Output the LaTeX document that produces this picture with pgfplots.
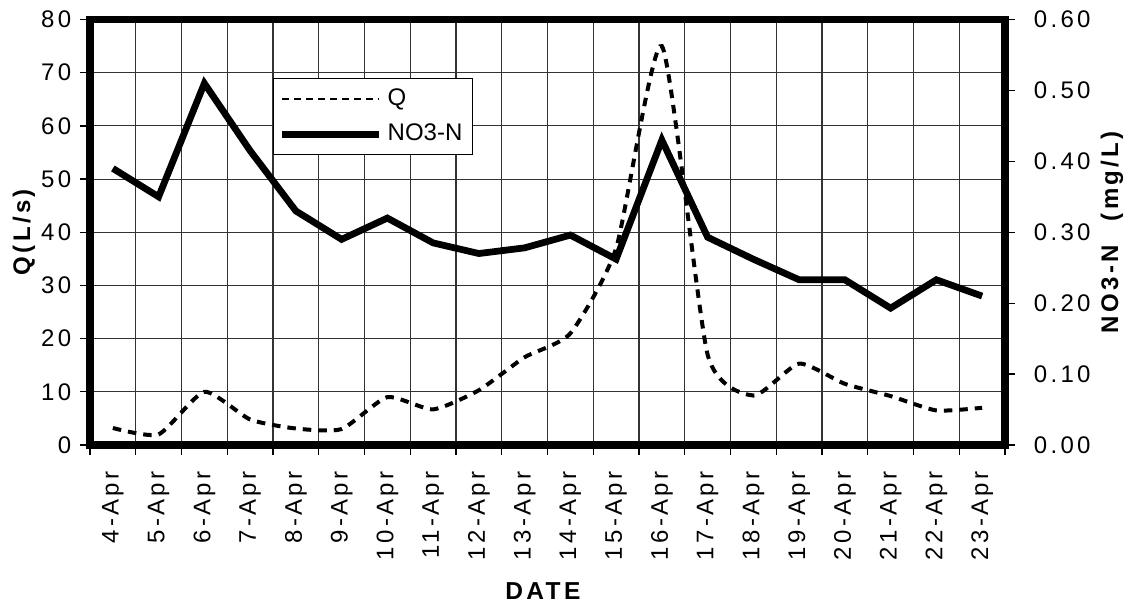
\documentclass[border=0pt]{standalone}
\usepackage{fontspec}
\setmainfont{Liberation Sans}[LetterSpace=14]
\newfontfamily\legfont{Liberation Sans}
\usepackage{pgfplots}
\usepackage{pgfplotstable}
\pgfplotsset{compat=1.18}

\pgfplotstableread{
x Q N
0 3.2 0.39
1 2.0 0.35
2 10.0 0.51
3 4.8 0.415
4 3.1 0.33
5 3.0 0.29
6 9.0 0.32
7 6.7 0.285
8 10.3 0.27
9 16.5 0.278
10 21.0 0.296
11 37.0 0.262
12 75.0 0.43
13 17.0 0.293
14 9.3 0.262
15 15.3 0.233
16 11.5 0.233
17 9.2 0.193
18 6.5 0.233
19 7.0 0.21
}\datatable

\tikzset{
  qstyle/.style={black, line width=1.6pt, dash pattern=on 3.4pt off 2.8pt},
  nstyle/.style={black, line width=2.7pt, line join=miter},
}

\begin{document}
\begin{tikzpicture}
\path[use as bounding box] (-36pt,-66.4pt) rectangle (417.6pt,178pt);
\begin{axis}[
  scale only axis, width=366pt, height=170.2pt,
  at={(0,0)}, anchor=south west,
  xmin=-0.5, xmax=19.5, ymin=0, ymax=80,
  xtick={-0.5,0.5,...,19.5},
  x tick label as interval,
  xticklabels={4-Apr,5-Apr,6-Apr,7-Apr,8-Apr,9-Apr,10-Apr,11-Apr,12-Apr,13-Apr,14-Apr,15-Apr,16-Apr,17-Apr,18-Apr,19-Apr,20-Apr,21-Apr,22-Apr,23-Apr},
  xticklabel style={rotate=90, anchor=east},
  xticklabel shift=3pt,
  ytick={0,10,...,80},
  grid=major,
  major grid style={black!80, line width=0.45pt},
  tick align=outside, major tick length=4pt,
  tick pos=left,
  tick style={black, line width=0.5pt},
  axis line style={line width=3pt},
  ticklabel style={font=\fontsize{9.6}{11}\selectfont},
  /pgf/number format/assume math mode=true,
  ylabel={\bfseries Q(L/s)},
  every axis y label/.style={at={(axis description cs:-0.0721,0.5)}, rotate=90, anchor=center, font=\fontsize{9.6}{11}\selectfont},
  xlabel={\bfseries DATE},
  every axis x label/.style={at={(axis description cs:0.495,-0.343)}, anchor=center, font=\fontsize{9.8}{11}\selectfont},
]
\addplot[qstyle, smooth, tension=0.35] table[x=x, y=Q] {\datatable};
\end{axis}
\begin{axis}[
  scale only axis, width=366pt, height=170.2pt,
  at={(0,0)}, anchor=south west,
  xmin=-0.5, xmax=19.5, ymin=0, ymax=0.6,
  hide x axis,
  axis y line*=right,
  y axis line style={line width=3pt},
  ytick={0,0.1,...,0.6},
  tick align=outside, major tick length=4pt,
  tick style={black, line width=0.5pt},
  yticklabel style={/pgf/number format/fixed, /pgf/number format/fixed zerofill, /pgf/number format/precision=2},
  yticklabel shift=4pt,
  ticklabel style={font=\fontsize{9.6}{11}\selectfont},
  /pgf/number format/assume math mode=true,
  ylabel={\bfseries NO3-N\quad (mg/L)},
  every axis y label/.style={at={(axis description cs:1.117,0.5)}, rotate=90, anchor=center, font=\fontsize{9.6}{11}\selectfont},
  legend style={at={(axis description cs:0.2,0.8625)}, anchor=north west, draw=black, line width=0.4pt, fill=white, font=\legfont\fontsize{9.6}{11}\selectfont, row sep=2pt, inner xsep=2pt, inner ysep=2pt},
  legend cell align=left,
  legend image code/.code={\draw[#1] (0pt,0pt) -- (39pt,0pt);},
]
\addlegendimage{black, line width=0.9pt, dash pattern=on 2.8pt off 2pt}
\addlegendentry{Q}
\addplot[nstyle] table[x=x, y=N] {\datatable};
\addlegendentry{NO3-N}
\end{axis}
\end{tikzpicture}
\end{document}
